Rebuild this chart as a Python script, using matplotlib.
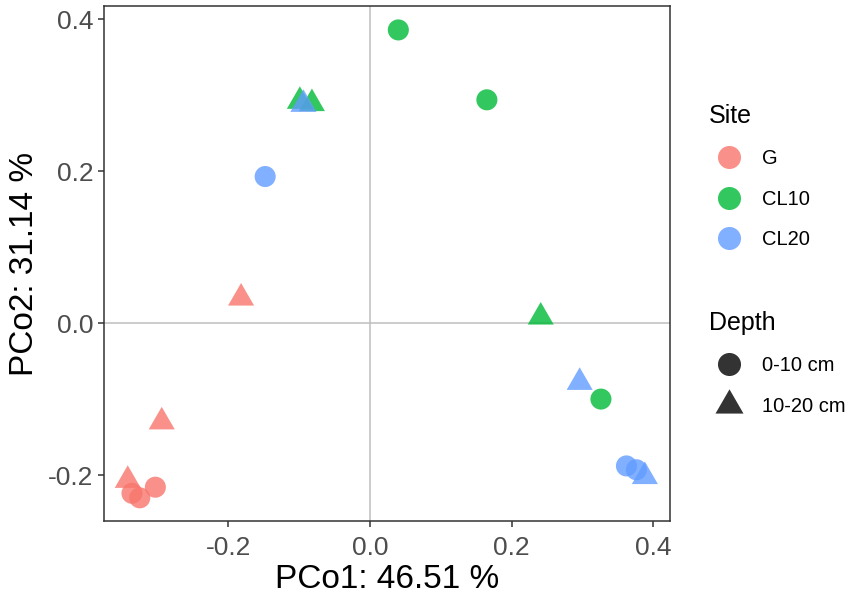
import matplotlib
matplotlib.use("Agg")
import matplotlib.pyplot as plt
from matplotlib.lines import Line2D
import numpy as np

plt.rcParams['font.family'] = ['Liberation Sans', 'DejaVu Sans']

# Data
sites = ["G", "CL10", "CL20"]
depths = ["0-10 cm", "10-20 cm"]
site_colors = {"G": "#F8766D", "CL10": "#00BA38", "CL20": "#619CFF"}

point_site = ["G", "G", "G", "G", "G", "G",
              "CL10", "CL10", "CL10", "CL10", "CL10", "CL10",
              "CL20", "CL20", "CL20", "CL20", "CL20", "CL20"]
point_depth = ["0-10 cm", "0-10 cm", "0-10 cm", "10-20 cm", "10-20 cm", "10-20 cm",
               "0-10 cm", "0-10 cm", "0-10 cm", "10-20 cm", "10-20 cm", "10-20 cm",
               "0-10 cm", "0-10 cm", "0-10 cm", "10-20 cm", "10-20 cm", "10-20 cm"]
pco1 = [-0.336, -0.325, -0.303, -0.342, -0.294, -0.182,
        0.040, 0.165, 0.326, -0.099, -0.082, 0.241,
        -0.148, 0.362, 0.376, -0.094, 0.296, 0.388]
pco2 = [-0.224, -0.230, -0.216, -0.207, -0.130, 0.033,
        0.386, 0.294, -0.100, 0.292, 0.289, 0.008,
        0.193, -0.188, -0.193, 0.288, -0.078, -0.202]

x_ticks = [-0.2, 0.0, 0.2, 0.4]
y_ticks = [-0.2, 0.0, 0.2, 0.4]
x_label = "PCo1: 46.51 %"
y_label = "PCo2: 31.14 %"

# equilateral triangle marker centred on centroid
tri = [(-1.0, -0.577), (1.0, -0.577), (0.0, 1.155), (-1.0, -0.577)]
markers = {"0-10 cm": "o", "10-20 cm": tri}
sizes = {"0-10 cm": 230, "10-20 cm": 470}

fig = plt.figure(figsize=(8.51, 5.95), dpi=100)
ax = fig.add_axes([104/851, 1-521/595, (670-104)/851, (521-6)/595])

ax.axhline(0, color="#BEBEBE", lw=1.1, zorder=1)
ax.axvline(0, color="#BEBEBE", lw=1.1, zorder=1)

for x, y, s, d in zip(pco1, pco2, point_site, point_depth):
    ax.scatter([x], [y], s=sizes[d], marker=markers[d], c=site_colors[s],
               alpha=0.8, edgecolors="none", zorder=3)

ax.set_xlim(-0.3755, 0.4235)
ax.set_ylim(-0.2605, 0.4175)
ax.set_xticks(x_ticks)
ax.set_yticks(y_ticks)
ax.set_xticklabels([f"{v:.1f}" for v in x_ticks])
ax.set_yticklabels([f"{v:.1f}" for v in y_ticks])
ax.tick_params(axis="both", labelsize=19, labelcolor="#4D4D4D", color="#333333",
               length=4.5, width=1.1)
ax.tick_params(axis="x", pad=6)
ax.tick_params(axis="y", pad=3)
for sp in ax.spines.values():
    sp.set_color("#333333")
    sp.set_linewidth(1.1)
ax.set_xlabel(x_label, fontsize=24, labelpad=3)
ax.set_ylabel(y_label, fontsize=24, labelpad=6)

site_handles = [Line2D([], [], ls="none", marker="o", ms=16.6, mfc=site_colors[s],
                       mec="none", alpha=0.8) for s in sites]
depth_handles = [Line2D([], [], ls="none", marker="o", ms=16.6, mfc="#333333", mec="none"),
                 Line2D([], [], ls="none", marker=tri, ms=23.3, mfc="#333333", mec="none")]

common = dict(loc="upper left", frameon=False, fontsize=14.5, title_fontsize=18,
              handletextpad=0.65, labelspacing=1.06, alignment="left",
              handlelength=2.0, borderaxespad=0)
leg1 = fig.legend(site_handles, sites, bbox_to_anchor=(701/851, 1-96/595),
                  title="Site", **common)
leg2 = fig.legend(depth_handles, depths, bbox_to_anchor=(701/851, 1-303/595),
                  title="Depth", **common)

fig.savefig("out.png", dpi=100)
